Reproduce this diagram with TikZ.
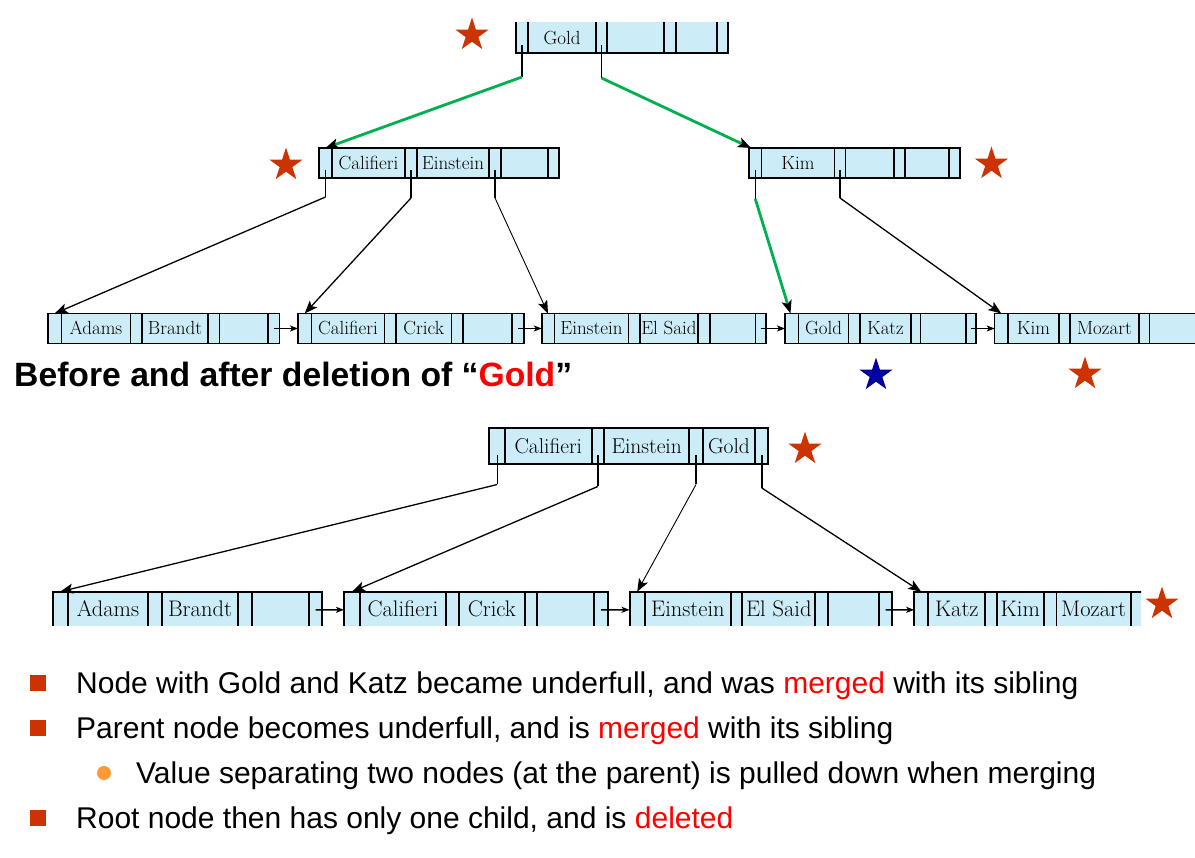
\documentclass[tikz,border=0pt]{standalone}
\usepackage{fontspec}
\newfontfamily\arialfont{Liberation Sans}
\usetikzlibrary{arrows.meta,shapes.geometric}
\definecolor{cellblue}{RGB}{204,236,248}
\definecolor{starred}{RGB}{204,51,0}
\definecolor{starblue}{RGB}{0,0,160}
\definecolor{lgreen}{RGB}{0,176,80}
\definecolor{dotorange}{RGB}{255,153,51}
\definecolor{textred}{RGB}{255,0,0}
\tikzset{
  bt/.style={draw=black, fill=cellblue, rectangle, inner sep=0pt, outer sep=0pt, anchor=north west},
  keyA/.style={font=\fontsize{19}{20}\selectfont, inner sep=0pt, anchor=base},
  keyB/.style={font=\fontsize{21.5}{24}\selectfont, inner sep=0pt, anchor=base},
  keyC/.style={font=\fontsize{22.5}{24}\selectfont, inner sep=0pt, anchor=base},
  ptr/.style={line width=1.4pt},
  ptrb/.style={line width=1.6pt},
  arr/.style={line width=1.3pt, -{Stealth[length=13pt,width=10pt,inset=3pt]}},
  tarr/.style={line width=0.9pt, -{Stealth[length=13pt,width=10pt,inset=3pt]}},
  garr/.style={draw=lgreen, line width=2.8pt, -{Stealth[length=13pt,width=10pt,inset=3pt,color=black]}},
  larr/.style={line width=1.3pt, -{Stealth[length=8pt,width=6pt,inset=2pt]}},
  larrb/.style={line width=1.5pt, -{Stealth[length=8pt,width=6pt,inset=2pt]}},
  redstar/.style={star, star points=5, star point ratio=2.618, minimum size=35pt, inner sep=0pt, fill=starred, draw=none},
  bluestar/.style={redstar, fill=starblue},
  sqbullet/.style={rectangle, fill=starred, minimum size=16pt, inner sep=0pt},
  dotbullet/.style={circle, fill=dotorange, minimum size=14pt, inner sep=0pt},
  btext/.style={anchor=base west, inner sep=0pt, font=\arialfont\fontsize{30}{34}\selectfont},
  ttext/.style={anchor=base west, inner sep=0pt, font=\arialfont\bfseries\fontsize{33.7}{38}\selectfont}
}
% #1 line width, #2 name, #3 x left, #4 y top, #5 x right, #6 y bottom, #7 dividers
\newcommand{\tnode}[7]{%
  \node[bt, line width=#1, minimum width={(#5)-(#3)}, minimum height={(#6)-(#4)}] (#2) at (#3,#4) {};
  \foreach \dx in {#7} {\draw[line width=#1] (\dx,#4) -- (\dx,#6);}
}
\begin{document}
\begin{tikzpicture}[x=1pt,y=-1pt]
\useasboundingbox (0,0) rectangle (1195,858);

% ---------- upper tree ----------
\begin{scope}
  \clip (0,23) rectangle (1195,100);
  \tnode{1.5pt}{root}{516}{12}{728}{53}{528,596,607,664,676,717}
\end{scope}
\node[keyA] (kroot) at (562,44.3) {Gold};

\tnode{1.5pt}{ncal}{319}{148}{559}{178}{332,405,417,489,501,548}
\node[keyA] (kc1) at (368.5,169.3) {Califieri};
\node[keyA] (kc2) at (453,169.3) {Einstein};

\tnode{1.5pt}{nkim}{749}{148}{960}{178}{761.7,834.3,845.7,894,905,949}
\node[keyA] (kk1) at (798,169.3) {Kim};

\begin{scope}
  \clip (0,300) rectangle (1195,360);
  \tnode{1.5pt}{lAdams}{48}{313.5}{279.3}{343.5}{61.4,130.4,141.8,207.9,219.6,267.9}
  \tnode{1.5pt}{lCal}{298}{313.5}{524}{343.5}{311.4,384.6,396,451.4,463.2,512}
  \tnode{1.5pt}{lEin}{541.8}{313.5}{765.8}{343.5}{554.3,628.5,639.8,697.9,710,755.6}
  \tnode{1.5pt}{lGold}{785}{313.5}{976}{343.5}{798.5,848.6,860,911,920.7,966}
  \tnode{1.5pt}{lKim}{994.7}{313.5}{1230}{343.5}{1008,1059.2,1069.8,1138.9,1149.5,1218}
\end{scope}
\node[keyA] (la1) at (96,334.8) {Adams};
\node[keyA] (la2) at (175,334.8) {Brandt};
\node[keyA] (lc1) at (348,334.8) {Califieri};
\node[keyA] (lc2) at (423.7,334.8) {Crick};
\node[keyA] (le1) at (591.4,334.8) {Einstein};
\node[keyA] (le2) at (668.9,334.8) {El Said};
\node[keyA] (lg1) at (823.5,334.8) {Gold};
\node[keyA] (lg2) at (885.5,334.8) {Katz};
\node[keyA] (lk1) at (1033.5,334.8) {Kim};
\node[keyA] (lk2) at (1104.4,334.8) {Mozart};

% root pointers (green)
\coordinate (r1a) at (522,45);  \coordinate (r1b) at (522,77);
\coordinate (r2a) at (601.5,45);  \coordinate (r2b) at (601.5,78);
\draw[ptr] (r1a) -- (r1b);
\draw[ptr] (r2a) -- (r2b);
\draw[garr] (r1b) -- ([xshift=6.5pt]ncal.north west);
\draw[garr] (r2b) -- ([xshift=2pt]nkim.north west);

% level 2 pointers
\coordinate (c1a) at (325.5,170); \coordinate (c1b) at (325.5,197);
\coordinate (c2a) at (411,170);   \coordinate (c2b) at (411,198);
\coordinate (c3a) at (495,170);   \coordinate (c3b) at (495,198);
\draw[ptr] (c1a) -- (c1b);
\draw[ptr] (c2a) -- (c2b);
\draw[ptr] (c3a) -- (c3b);
\draw[arr] (c1b) -- ([xshift=6.7pt]lAdams.north west);
\draw[arr] (c2b) -- ([xshift=6.7pt]lCal.north west);
\draw[tarr] (c3b) -- ([xshift=6.2pt]lEin.north west);

\coordinate (m1a) at (755.3,170); \coordinate (m1b) at (755.3,199);
\coordinate (m2a) at (840,170);   \coordinate (m2b) at (840,198);
\draw[ptr] (m1a) -- (m1b);
\draw[ptr] (m2a) -- (m2b);
\draw[garr] (m1b) -- ([xshift=5.5pt]lGold.north west);
\draw[arr] (m2b) -- ([xshift=6.6pt]lKim.north west);

% leaf chain
\coordinate (s1) at (273.6,328.5);
\coordinate (s2) at (518,328.5);
\coordinate (s3) at (760.7,328.5);
\coordinate (s4) at (971,328.5);
\draw[larr] (s1) -- (lCal.west);
\draw[larr] (s2) -- (lEin.west);
\draw[larr] (s3) -- (lGold.west);
\draw[larr] (s4) -- (lKim.west);

% stars upper
\node[redstar] (st1) at (472,35) {};
\node[redstar] (st2) at (286,165) {};
\node[redstar] (st3) at (991.5,164) {};
\node[bluestar] (st4) at (876,375) {};
\node[redstar] (st5) at (1085,374) {};

% title
\node[ttext] (title) at (14,387) {Before and after deletion of “\textcolor{textred}{Gold}”};

% ---------- lower tree ----------
\tnode{1.8pt}{merged}{489.3}{428.3}{768.3}{464.3}{505,591.7,604,689.3,702.7,755.3}
\node[keyB] (mk1) at (548.3,454) {Califieri};
\node[keyB] (mk2) at (646.7,454) {Einstein};
\node[keyB] (mk3) at (729,454) {Gold};
\node[redstar] (st6) at (805,449) {};

\begin{scope}
  \clip (0,570) rectangle (1141,625);
  \tnode{1.8pt}{bAdams}{52.7}{591.7}{321.7}{628}{67.7,148.3,161.7,238.3,251.7,309.3}
  \tnode{1.8pt}{bCal}{344}{591.7}{607.9}{628}{360,445.8,458.8,524.7,536.9,594.2}
  \tnode{1.8pt}{bEin}{629.6}{591.7}{892.2}{628}{644.8,730.9,742.3,815.2,827.7,878.9}
  \tnode{1.8pt}{bKatz}{914.2}{591.7}{1160}{628}{928.3,985.2,996.6,1044,1056.5,1130.6}
\end{scope}
\node[keyC] (ba1) at (108,616) {Adams};
\node[keyC] (ba2) at (200,616) {Brandt};
\node[keyC] (bc1) at (402.9,616) {Califieri};
\node[keyC] (bc2) at (491.8,616) {Crick};
\node[keyC] (be1) at (687.9,616) {Einstein};
\node[keyC] (be2) at (778.8,616) {El Said};
\node[keyC] (bk1) at (956.8,616) {Katz};
\node[keyC] (bk2) at (1020.3,616) {Kim};
\node[keyC] (bk3) at (1093.6,616) {Mozart};
\node[redstar] (st7) at (1162,604) {};

\coordinate (p1a) at (497.3,455); \coordinate (p1b) at (497.3,484.5);
\coordinate (p2a) at (597.8,455); \coordinate (p2b) at (597.8,486.5);
\coordinate (p3a) at (696,455);   \coordinate (p3b) at (696,484.5);
\coordinate (p4a) at (761.8,455); \coordinate (p4b) at (761.8,488);
\draw[ptrb] (p1a) -- (p1b);
\draw[ptrb] (p2a) -- (p2b);
\draw[ptrb] (p3a) -- (p3b);
\draw[ptrb] (p4a) -- (p4b);
\draw[arr] (p1b) -- ([xshift=7.5pt]bAdams.north west);
\draw[arr] (p2b) -- ([xshift=8pt]bCal.north west);
\draw[tarr] (p3b) -- ([xshift=7.6pt]bEin.north west);
\draw[arr] (p4b) -- ([xshift=7pt]bKatz.north west);

\coordinate (q1) at (315.5,609.8);
\coordinate (q2) at (601,609.8);
\coordinate (q3) at (885.5,609.8);
\draw[larrb] (q1) -- (bCal.west);
\draw[larrb] (q2) -- (bEin.west);
\draw[larrb] (q3) -- (bKatz.west);

% ---------- bullets ----------
\node[sqbullet] (b1) at (38,683) {};
\node[btext] (t1) at (76,693) {Node with Gold and Katz became underfull, and was \textcolor{textred}{merged} with its sibling};
\node[sqbullet] (b2) at (38,728) {};
\node[btext] (t2) at (76,738) {Parent node becomes underfull, and is \textcolor{textred}{merged} with its sibling};
\node[dotbullet] (b3) at (104,773) {};
\node[btext] (t3) at (136,783) {Value separating two nodes (at the parent) is pulled down when merging};
\node[sqbullet] (b4) at (38,818) {};
\node[btext] (t4) at (76,828) {Root node then has only one child, and is \textcolor{textred}{deleted}};
\end{tikzpicture}
\end{document}
